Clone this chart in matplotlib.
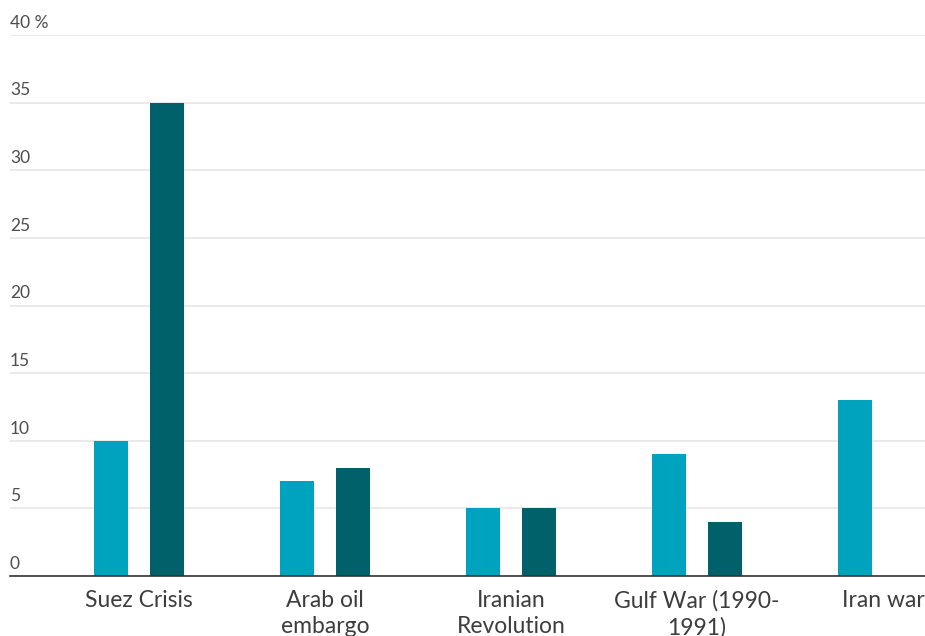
import matplotlib.pyplot as plt
import numpy as np
from matplotlib.transforms import blended_transform_factory, offset_copy

plt.rcParams['font.family'] = ['Lato', 'DejaVu Sans']

# Datos del gráfico
eventos = ["Suez Crisis", "Arab oil\nembargo", "Iranian\nRevolution",
           "Gulf War (1990-\n1991)", "Iran war"]
serie_clara = [10, 7, 5, 9, 13]
serie_oscura = [35, 8, 5, 4, np.nan]
yticks = [0, 5, 10, 15, 20, 25, 30, 35, 40]
ytick_labels = ["0", "5", "10", "15", "20", "25", "30", "35", "40 %"]

color_claro = "#00a3be"
color_oscuro = "#01616b"

fig = plt.figure(figsize=(9.25, 6.36), dpi=100)
ax = fig.add_axes([10 / 925, 1 - 576 / 636, 915 / 925, (576 - 35) / 636])

x = np.arange(len(eventos))
ancho = 0.183
desp = 0.15
ax.bar(x - desp, serie_clara, width=ancho, color=color_claro, zorder=3)
ax.bar(x + desp, serie_oscura, width=ancho, color=color_oscuro, zorder=3)

ax.set_xlim(-0.694, 4.226)
ax.set_ylim(0, 40)

# Líneas de cuadrícula y etiquetas del eje y encima de cada línea
ax.set_yticks(yticks)
ax.yaxis.grid(True, color="#e6e6e6", linewidth=1.2, zorder=0)
ax.tick_params(axis="y", length=0, labelleft=False)
trans = offset_copy(blended_transform_factory(ax.transAxes, ax.transData),
                    fig=fig, x=0, y=3, units="points")
for v, lab in zip(yticks, ytick_labels):
    ax.text(0.0, v, lab, transform=trans, ha="left", va="bottom",
            fontsize=12.5, color="#4d4d4d")

ax.set_xticks(x)
ax.set_xticklabels(eventos, fontsize=16.5, color="#3d3d3d", linespacing=1.32)
ax.tick_params(axis="x", length=0, pad=10)

for s in ["top", "right", "left"]:
    ax.spines[s].set_visible(False)
ax.spines["bottom"].set_color("#333333")
ax.spines["bottom"].set_linewidth(1.2)
ax.spines["bottom"].set_zorder(4)

fig.savefig("out.png", dpi=100)
